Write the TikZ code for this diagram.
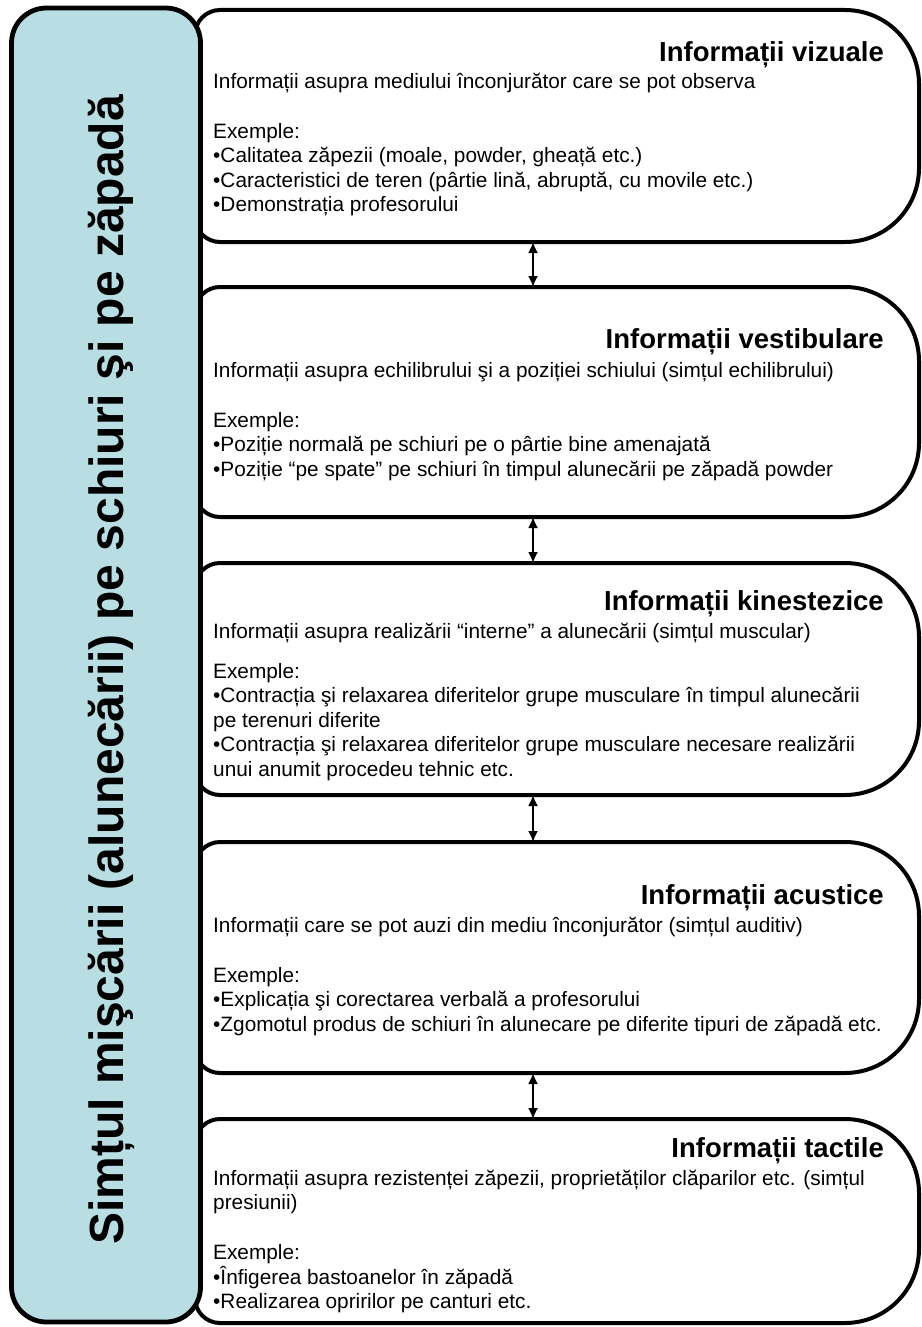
\documentclass[tikz,border=0pt]{standalone}
\usepackage{fontspec}
\setmainfont{Liberation Sans}
\usetikzlibrary{arrows.meta,calc}
\definecolor{leftfill}{RGB}{184,222,227}
\tikzset{
  region/.style={inner sep=0pt, outer sep=0pt, draw=none, minimum width=724pt},
  rboxline/.style={line width=4pt, draw=black, fill=white},
  lbox/.style={line width=4.8pt, draw=black, fill=leftfill, rounded corners=35pt, inner sep=0pt, outer sep=0pt},
  boxtitle/.style={anchor=base east, inner sep=0pt, font=\fontsize{27.5pt}{30pt}\selectfont\bfseries},
  boxbody/.style={anchor=base west, inner sep=0pt, align=left, font=\fontsize{20.8pt}{24.5pt}\selectfont},
  link/.style={line width=1.8pt, {Latex[length=11pt,width=10pt]}-{Latex[length=11pt,width=10pt]}},
  lefttitle/.style={rotate=90, inner sep=0pt, font=\fontsize{48pt}{50pt}\selectfont\bfseries}
}
\newcommand\rboxdraw[1]{%
  \draw[rboxline] ([xshift=25pt]#1.north west) -- ([xshift=-74pt]#1.north east)
    arc[start angle=90,end angle=0,radius=74pt] -- ([yshift=74pt]#1.south east)
    arc[start angle=0,end angle=-90,radius=74pt] -- ([xshift=25pt]#1.south west)
    arc[start angle=270,end angle=180,radius=25pt] -- ([yshift=-25pt]#1.north west)
    arc[start angle=180,end angle=90,radius=25pt] -- cycle;}
\begin{document}
\begin{tikzpicture}[x=1pt,y=1pt]
\useasboundingbox[fill=white] (0,0) rectangle (921,-1327);
% regions of the right boxes
\node[region, minimum height=232pt] (b1) at (557,-126) {};
\node[region, minimum height=230pt] (b2) at (557,-402) {};
\node[region, minimum height=232pt] (b3) at (557,-679) {};
\node[region, minimum height=231pt] (b4) at (557,-957.5) {};
\node[region, minimum height=204pt] (b5) at (557,-1221) {};
\rboxdraw{b1}
\rboxdraw{b2}
\rboxdraw{b3}
\rboxdraw{b4}
\rboxdraw{b5}
% left box
\node[lbox, minimum width=189pt, minimum height=1314pt] (left) at (106,-665) {};
\node[lefttitle] (lt) at (111,-670) {Simțul mişcării (alunecării) pe schiuri şi pe zăpadă};
% titles
\node[boxtitle] (t1) at (884,-62) {Informații vizuale};
\node[boxtitle] (t2) at (884,-348) {Informații vestibulare};
\node[boxtitle] (t3) at (884,-610) {Informații kinestezice};
\node[boxtitle] (t4) at (884,-904) {Informații acustice};
\node[boxtitle] (t5) at (884,-1157) {Informații tactile};
% bodies (anchored at the baseline of their last line)
\node[boxbody] (x1) at (213,-211.5) {Informații asupra mediului înconjurător care se pot observa\\[25.5pt]
Exemple:\\
•Calitatea zăpezii (moale, powder, gheață etc.)\\
•Caracteristici de teren (pârtie lină, abruptă, cu movile etc.)\\
•Demonstrația profesorului};
\node[boxbody] (x2) at (213,-476) {Informații asupra echilibrului şi a poziției schiului (simțul echilibrului)\\[25.5pt]
Exemple:\\
•Poziție normală pe schiuri pe o pârtie bine amenajată\\
•Poziție “pe spate” pe schiuri în timpul alunecării pe zăpadă powder};
\node[boxbody] (x3) at (213,-776) {Informații asupra realizării “interne” a alunecării (simțul muscular)\\[15.5pt]
Exemple:\\
•Contracția şi relaxarea diferitelor grupe musculare în timpul alunecării\\
pe terenuri diferite\\
•Contracția şi relaxarea diferitelor grupe musculare necesare realizării\\
unui anumit procedeu tehnic etc.};
\node[boxbody] (x4) at (213,-1031) {Informații care se pot auzi din mediu înconjurător (simțul auditiv)\\[25.5pt]
Exemple:\\
•Explicația şi corectarea verbală a profesorului\\
•Zgomotul produs de schiuri în alunecare pe diferite tipuri de zăpadă etc.};
\node[boxbody] (x5) at (213,-1308.5) {Informații asupra rezistenței zăpezii, proprietăților clăparilor etc. (simțul\\
presiunii)\\[25.5pt]
Exemple:\\
•Înfigerea bastoanelor în zăpadă\\
•Realizarea opririlor pe canturi etc.};
% connectors
\coordinate (ax) at (533,0);
\draw[link] (b1.south -| ax) -- (b2.north -| ax);
\draw[link] (b2.south -| ax) -- (b3.north -| ax);
\draw[link] (b3.south -| ax) -- (b4.north -| ax);
\draw[link] (b4.south -| ax) -- (b5.north -| ax);
\end{tikzpicture}
\end{document}
